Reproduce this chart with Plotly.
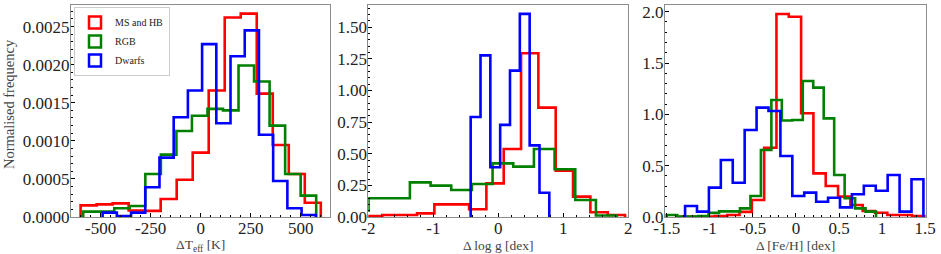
import numpy as np
import plotly.graph_objects as go

# ---------------- data (normalised histogram heights) ----------------
series_names = ["MS and HB", "RGB", "Dwarfs"]
series_colors = ["#ff0000", "#008000", "#0000ff"]

# Panel 1: Delta Teff [K]  (bin range lo, hi ; heights per bin)
teff_ranges = [(-600, 600), (-587, 577), (-490, 575)]
teff_ms = [0.000153, 0.000166, 0.000179, 0.000085, 0.000080, 0.000236, 0.000490, 0.000845,
           0.00166, 0.00262, 0.00267, 0.00162, 0.000946, 0.000565, 0.000188]
teff_rgb = [0.000070, 0.000070, 0.000114, 0.000145, 0.000565, 0.000819, 0.00113, 0.00133,
            0.00142, 0.00140, 0.00199, 0.00178, 0.00120, 0.000565, 0.000280]
teff_dwarfs = [0.000057, 0.000013, 0.000057, 0.00039, 0.00078, 0.00131, 0.00166, 0.00227,
               0.00123, 0.00211, 0.00245, 0.00108, 0.000473, 0.000114, 0.000026]

# Panel 2: Delta log g [dex]
logg_ranges = [(-2.05, 1.95), (-2.95, 1.82), (-0.425, 0.785)]
logg_ms = [0.008, 0.016, 0.016, 0.029, 0.100, 0.100, 0.061, 0.266, 0.538, 1.294, 0.865,
           0.366, 0.161, 0.037, 0.016]
logg_rgb = [0.020, 0.030, 0.050, 0.148, 0.148, 0.274, 0.248, 0.214, 0.261, 0.424, 0.398,
            0.538, 0.377, 0.134, 0.012]
logg_dwarfs = [0.790, 1.278, 0.393, 0.728, 1.157, 1.606, 0.566, 0.192]

# Panel 3: Delta [Fe/H] [dex]
feh_ranges = [(-1.37, 1.49), (-1.50, 0.93), (-1.287, 1.48)]
feh_ms = [0.003, 0.003, 0.005, 0.010, 0.020, 0.050, 0.166, 0.675, 1.977, 1.951, 1.010,
          0.425, 0.302, 0.198, 0.117, 0.058, 0.042, 0.020, 0.020, 0.010]
feh_rgb = [0.020, 0.005, 0.005, 0.010, 0.040, 0.055, 0.055, 0.084, 0.205, 0.653, 1.140,
           0.940, 0.945, 1.325, 1.260, 0.961, 0.409, 0.182, 0.084, 0.052]
feh_dwarfs = [0.107, 0.052, 0.286, 0.555, 0.334, 0.847, 1.065, 1.032, 0.594, 0.205, 0.237,
              0.149, 0.188, 0.094, 0.221, 0.305, 0.256, 0.409, 0.052, 0.367]

# tick labels
teff_xticks = [-500, -250, 0, 250, 500]
teff_xlabels = ["-500", "-250", "0", "250", "500"]
teff_yticks = [0, 0.0005, 0.0010, 0.0015, 0.0020, 0.0025]
teff_ylabels = ["0.0000", "0.0005", "0.0010", "0.0015", "0.0020", "0.0025"]
logg_xticks = [-2, -1, 0, 1, 2]
logg_xlabels = ["-2", "-1", "0", "1", "2"]
logg_yticks = [0, 0.25, 0.5, 0.75, 1.0, 1.25, 1.5]
logg_ylabels = ["0.00", "0.25", "0.50", "0.75", "1.00", "1.25", "1.50"]
feh_xticks = [-1.5, -1, -0.5, 0, 0.5, 1, 1.5]
feh_xlabels = ["-1.5", "-1", "-0.5", "0", "0.5", "1", "1.5"]
feh_yticks = [0, 0.5, 1.0, 1.5, 2.0]
feh_ylabels = ["0.0", "0.5", "1.0", "1.5", "2.0"]

x_titles = ["ΔT<sub>eff</sub> [K]", "Δ log g [dex]", "Δ [Fe/H] [dex]"]
y_title = "Normalised frequency"

# ---------------- figure ----------------
W, H = 941, 254
FONT = "Liberation Serif"


def step_trace(rng, heights, color, xa, ya):
    h = np.asarray(heights, dtype=float)
    edges = np.linspace(rng[0], rng[1], len(h) + 1)
    xs = np.concatenate([[edges[0]], edges])
    ys = np.concatenate([[0.0], h, [0.0]])
    return go.Scatter(x=xs, y=ys, mode="lines",
                      line=dict(color=color, width=2.6, shape="hv"),
                      xaxis=xa, yaxis=ya, showlegend=False, hoverinfo="skip")


fig = go.Figure()
panels = [
    (teff_ranges, [teff_ms, teff_rgb, teff_dwarfs], "x", "y"),
    (logg_ranges, [logg_ms, logg_rgb, logg_dwarfs], "x2", "y2"),
    (feh_ranges, [feh_ms, feh_rgb, feh_dwarfs], "x3", "y3"),
]
for ranges, data, xa, ya in panels:
    for rng, h, c in zip(ranges, data, series_colors):
        fig.add_trace(step_trace(rng, h, c, xa, ya))

# legend entries (outlined patches)
for name, c in zip(series_names, series_colors):
    fig.add_trace(go.Bar(x=[None], y=[None], name=name, xaxis="x", yaxis="y",
                         marker=dict(color="rgba(255,255,255,0)", line=dict(color=c, width=2.5)),
                         showlegend=True))

# pixel geometry of the panels
px_x = [(71, 330), (368.3, 628.3), (665, 926)]
top_px, bot_px = 4.5, 217.0
ydom = [1 - bot_px / H, 1 - top_px / H]

xranges = [[-648, 646], [-2.0, 2.0], [-1.52, 1.51]]
yranges = [[0, 0.00279], [0, 1.680], [0, 2.07]]
xtv = [(teff_xticks, teff_xlabels), (logg_xticks, logg_xlabels), (feh_xticks, feh_xlabels)]
ytv = [(teff_yticks, teff_ylabels), (logg_yticks, logg_ylabels), (feh_yticks, feh_ylabels)]
xminor = [50, 0.2, 0.1]
yminor = [0.0001, 0.05, 0.1]

tickfont = dict(family=FONT, size=17, color="#222222")
axcommon = dict(showgrid=False, zeroline=False, showline=True, linecolor="#8c8c8c", linewidth=1,
                mirror=True, ticks="inside", ticklen=4, tickwidth=1, tickcolor="#000000",
                tickfont=tickfont, fixedrange=True, automargin=False)

layout = dict(width=W, height=H, margin=dict(l=0, r=0, t=0, b=0, pad=0, autoexpand=False),
              paper_bgcolor="white", plot_bgcolor="white", showlegend=True,
              barmode="overlay",
              legend=dict(x=74 / W, y=1 - 7 / H, xanchor="left", yanchor="top",
                          bgcolor="rgba(255,255,255,0.9)", bordercolor="#cccccc", borderwidth=1,
                          font=dict(family=FONT, size=10, color="#222222"),
                          tracegroupgap=0, itemwidth=30, traceorder="normal"))

annotations = []
for i in range(3):
    sfx = "" if i == 0 else str(i + 1)
    xa = dict(axcommon, domain=[px_x[i][0] / W, px_x[i][1] / W], range=xranges[i],
              tickmode="array", tickvals=xtv[i][0], ticktext=xtv[i][1],
              anchor="y" + sfx, ticklabelstandoff=-4,
              minor=dict(dtick=xminor[i], tick0=0, ticks="inside", ticklen=2,
                         tickcolor="#000000", showgrid=False))
    ya = dict(axcommon, domain=ydom, range=yranges[i],
              tickmode="array", tickvals=ytv[i][0], ticktext=ytv[i][1],
              anchor="x" + sfx, ticklabelstandoff=-3,
              minor=dict(dtick=yminor[i], tick0=0, ticks="inside", ticklen=2,
                         tickcolor="#000000", showgrid=False))
    layout["xaxis" + sfx] = xa
    layout["yaxis" + sfx] = ya
    annotations.append(dict(text=x_titles[i], xref="paper", yref="paper",
                            x=(px_x[i][0] + px_x[i][1]) / 2 / W, y=1 - 245 / H,
                            xanchor="center", yanchor="middle", showarrow=False,
                            font=dict(family=FONT, size=13.5, color="#444444")))

annotations.append(dict(text=y_title, xref="paper", yref="paper", x=9 / W, y=1 - 104 / H,
                        xanchor="center", yanchor="middle", showarrow=False, textangle=-90,
                        font=dict(family=FONT, size=14.5, color="#444444")))
layout["annotations"] = annotations

fig.update_layout(**layout)
fig.write_html("out.html", config={"displayModeBar": False},
               post_script="document.body.style.margin='0';document.body.style.overflow='hidden';")
